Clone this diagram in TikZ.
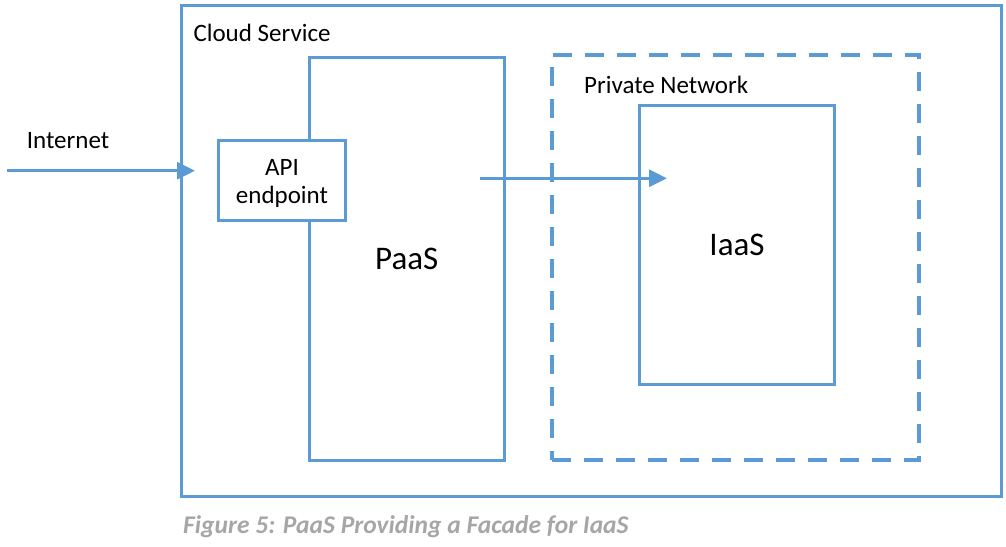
\documentclass[tikz,border=0pt]{standalone}
\usepackage{fontspec}
\setmainfont{Carlito}
\usetikzlibrary{positioning, arrows.meta}
\definecolor{boxblue}{RGB}{91,155,213}
\definecolor{capgray}{RGB}{166,166,166}

\begin{document}
\begin{tikzpicture}[x=1pt, y=-1pt, font=\fontsize{25}{28}\selectfont, >={Triangle[length=18pt, width=17pt]},
	blk/.style = {draw=boxblue, line width=3pt, inner sep=0pt, fill=white},
	dashblk/.style = {draw=boxblue, line width=4pt, inner sep=0pt, dash pattern=on 19pt off 13pt},
	lbl/.style = {anchor=base west, inner sep=0pt},
	big/.style = {font=\fontsize{33}{36}\selectfont},
	flow/.style = {->, draw=boxblue, line width=3pt}]
	\useasboundingbox (0,0) rectangle (1006,546);
	% boxes
	\node[blk, minimum width=820pt, minimum height=490.3pt](cloud) at (591.4,251.1) {};
	\node[blk, big, minimum width=195pt, minimum height=403pt](paas) at (406.8,258.8) {PaaS};
	\node[blk, align=center, minimum width=127.4pt, minimum height=80pt](api) at (282,180.7) {\rule{0pt}{22pt}API\\endpoint};
	\node[dashblk, minimum width=367pt, minimum height=405.6pt](private) at (735.8,257.5) {};
	\node[blk, big, minimum width=195pt, minimum height=278.6pt](iaas) at (737,245) {IaaS};
	% labels
	\node[lbl](cloudlbl) at (193.3,41.7) {Cloud Service};
	\node[lbl](netlbl) at (26.7,148.3) {Internet};
	\node[lbl](privlbl) at (584,93.3) {Private Network};
	\node[lbl, font=\fontsize{25.5}{28}\selectfont\bfseries\itshape, text=capgray](caption) at (183,533) {Figure 5: PaaS Providing a Facade for IaaS};
	% arrows
	\coordinate (netin) at (7,170.7);
	\coordinate (gate) at (195,170.7);
	\coordinate (call) at (480,178.3);
	\coordinate (reach) at (667,178.3);
	\draw[flow] (netin) -- (gate);
	\draw[flow] (call) -- (reach);
\end{tikzpicture}
\end{document}
